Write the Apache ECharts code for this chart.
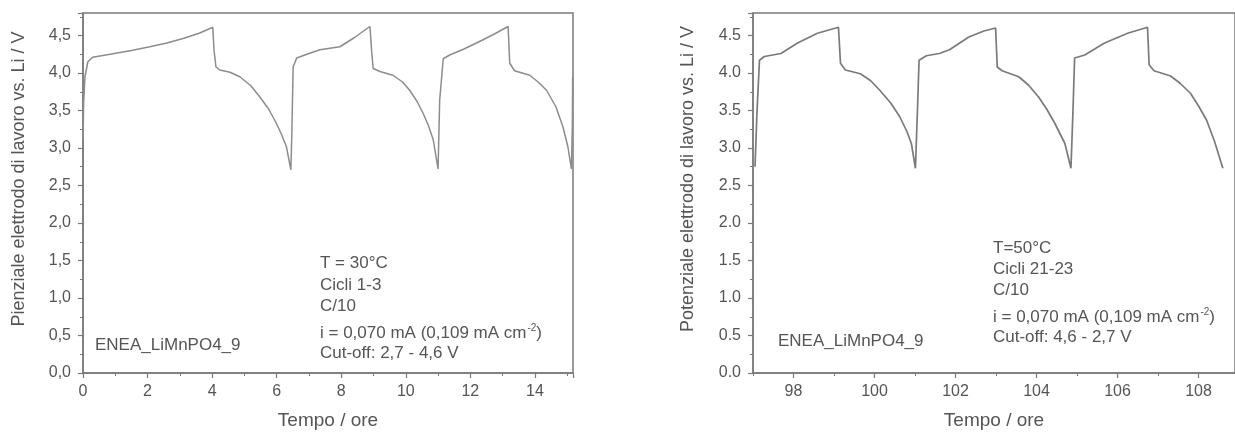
<!DOCTYPE html>
<html>
<head>
<meta charset="utf-8">
<script src="https://cdn.jsdelivr.net/npm/echarts@6/dist/echarts.min.js"></script>
<style>
  html, body { margin: 0; padding: 0; background: #fff; }
  #chart { width: 1235px; height: 436px; }
</style>
</head>
<body>
<div id="chart"></div>
<script>
// cicli 1-3, T = 30 C
const leftTime = [0.00, 0.02, 0.06, 0.15, 0.30, 0.84, 1.50, 2.07, 2.60, 3.10, 3.60, 4.02,
  4.06, 4.12, 4.24, 4.55, 4.86, 5.20, 5.48, 5.75, 5.99, 6.15, 6.30, 6.44,
  6.47, 6.51, 6.62, 7.00, 7.34, 7.96, 8.40, 8.89,
  8.94, 8.99, 9.20, 9.60, 9.90, 10.12, 10.35, 10.54, 10.70, 10.85, 11.00,
  11.05, 11.16, 11.36, 11.80, 12.19, 12.70, 13.17,
  13.22, 13.37, 13.84, 14.10, 14.36, 14.65, 14.87, 15.02, 15.13,
  15.16, 15.17]
const leftVoltage = [3.10, 3.60, 3.95, 4.15, 4.21, 4.25, 4.30, 4.35, 4.40, 4.46, 4.53, 4.61,
  4.30, 4.08, 4.04, 4.01, 3.95, 3.83, 3.68, 3.52, 3.33, 3.18, 3.02, 2.71,
  3.20, 4.08, 4.20, 4.26, 4.31, 4.35, 4.47, 4.62,
  4.30, 4.06, 4.02, 3.97, 3.88, 3.77, 3.62, 3.46, 3.30, 3.11, 2.72,
  3.64, 4.19, 4.24, 4.32, 4.40, 4.51, 4.62,
  4.13, 4.03, 3.97, 3.88, 3.77, 3.55, 3.28, 3.02, 2.72,
  3.30, 3.95]

// cicli 21-23, T = 50 C
const rightTime = [97.05, 97.10, 97.16, 97.28, 97.69, 98.10, 98.59, 99.11,
  99.16, 99.28, 99.65, 99.90, 100.13, 100.40, 100.62, 100.80, 100.91, 101.01,
  101.06, 101.10, 101.28, 101.60, 101.85, 102.33, 102.70, 102.99,
  103.03, 103.15, 103.56, 103.80, 104.05, 104.25, 104.45, 104.70, 104.85,
  104.90, 104.94, 105.19, 105.68, 106.25, 106.74,
  106.78, 106.90, 107.31, 107.55, 107.80, 108.00, 108.20, 108.40, 108.60]
const rightVoltage = [2.75, 3.50, 4.17, 4.22, 4.26, 4.40, 4.53, 4.61,
  4.13, 4.04, 3.99, 3.90, 3.77, 3.60, 3.42, 3.22, 3.06, 2.73,
  3.50, 4.17, 4.23, 4.26, 4.31, 4.48, 4.56, 4.60,
  4.08, 4.03, 3.95, 3.84, 3.68, 3.52, 3.33, 3.06, 2.73,
  3.50, 4.20, 4.24, 4.40, 4.53, 4.61,
  4.11, 4.03, 3.96, 3.86, 3.73, 3.56, 3.37, 3.08, 2.73]

const rightMajorTicks = [98, 100, 102, 104, 106, 108]
const rightMinorTicks = [97, 99, 101, 103, 105, 107]

const leftNotes = ['T = 30°C', 'Cicli 1-3', 'C/10', 'i = 0,070 mA (0,109 mA cm{sup|-2})', 'Cut-off: 2,7 - 4,6 V']
const rightNotes = ['T=50°C', 'Cicli 21-23', 'C/10', 'i = 0,070 mA (0,109 mA cm{sup|-2})', 'Cut-off: 4,6 - 2,7 V']
const sampleName = 'ENEA_LiMnPO4_9'

const FONT = "'Liberation Sans', Arial, sans-serif"
const AXIS = '#7a7a7a'
const TEXT = '#555'

const chart = echarts.init(document.getElementById('chart'))

function pairs(xs, ys) {
  return xs.map((x, i) => [x, ys[i]])
}

function yAxis(gridIndex, comma) {
  return {
    gridIndex: gridIndex,
    type: 'value',
    min: 0,
    max: 4.8,
    interval: 0.5,
    axisLine: { show: true, lineStyle: { color: AXIS, width: 1.5 } },
    axisTick: { show: true, length: 5, lineStyle: { color: AXIS, width: 1.2 } },
    minorTick: { show: true, splitNumber: 2, length: 3, lineStyle: { color: AXIS } },
    splitLine: { show: false },
    axisLabel: {
      margin: 12,
      color: TEXT,
      fontFamily: FONT,
      fontSize: 16,
      showMaxLabel: false,
      formatter: v => comma ? v.toFixed(1).replace('.', ',') : v.toFixed(1)
    }
  }
}

function noteGraphics(lines, x, ys) {
  return lines.map((t, i) => ({
    type: 'text',
    left: x,
    top: ys[i] - 10,
    style: {
      text: t,
      fill: TEXT,
      font: '17px ' + FONT,
      rich: {
        sup: { fontSize: 10, fill: TEXT, fontFamily: FONT, padding: [0, 0, 10, 1] }
      }
    }
  }))
}

function yTitle(text, x) {
  return {
    type: 'text',
    x: x,
    y: 179,
    rotation: Math.PI / 2,
    style: {
      text: text,
      fill: TEXT,
      font: '18px ' + FONT,
      align: 'center',
      verticalAlign: 'middle'
    }
  }
}

chart.setOption({
  animation: false,
  backgroundColor: '#fff',
  grid: [
    { left: 83, top: 13, right: 662, bottom: 63, show: true, borderColor: AXIS, borderWidth: 1.5 },
    { left: 753, top: 13, right: -4, bottom: 63, show: true, borderColor: AXIS, borderWidth: 1.5 }
  ],
  xAxis: [
    {
      gridIndex: 0,
      type: 'value',
      min: 0,
      max: 15.18,
      interval: 2,
      name: 'Tempo / ore',
      nameLocation: 'middle',
      nameGap: 38,
      nameTextStyle: { color: TEXT, fontFamily: FONT, fontSize: 19 },
      axisLine: { show: true, onZero: false, lineStyle: { color: AXIS, width: 1.5 } },
      axisTick: { show: true, length: 5, lineStyle: { color: AXIS, width: 1.2 } },
      minorTick: { show: true, splitNumber: 2, length: 3, lineStyle: { color: AXIS } },
      splitLine: { show: false },
      axisLabel: { margin: 11, color: TEXT, fontFamily: FONT, fontSize: 16, showMaxLabel: false }
    },
    {
      gridIndex: 1,
      type: 'value',
      position: 'bottom',
      min: 97,
      max: 108.9,
      name: 'Tempo / ore',
      nameLocation: 'middle',
      nameGap: 38,
      nameTextStyle: { color: TEXT, fontFamily: FONT, fontSize: 19 },
      axisLine: { show: true, onZero: false, lineStyle: { color: AXIS, width: 1.5 } },
      axisTick: { show: true, length: 5, customValues: rightMajorTicks, lineStyle: { color: AXIS, width: 1.2 } },
      splitLine: { show: false },
      axisLabel: { margin: 11, color: TEXT, fontFamily: FONT, fontSize: 16, customValues: rightMajorTicks }
    },
    {
      // minor ticks for the right panel
      gridIndex: 1,
      type: 'value',
      position: 'bottom',
      min: 97,
      max: 108.9,
      axisLine: { show: false },
      axisTick: { show: true, length: 3, customValues: rightMinorTicks, lineStyle: { color: AXIS } },
      axisLabel: { show: false },
      splitLine: { show: false }
    }
  ],
  yAxis: [yAxis(0, true), yAxis(1, false)],
  series: [
    {
      type: 'line',
      xAxisIndex: 0,
      yAxisIndex: 0,
      showSymbol: false,
      lineStyle: { color: '#8c8c8c', width: 1.5 },
      data: pairs(leftTime, leftVoltage)
    },
    {
      type: 'line',
      xAxisIndex: 1,
      yAxisIndex: 1,
      showSymbol: false,
      lineStyle: { color: '#7a7a7a', width: 1.7 },
      data: pairs(rightTime, rightVoltage)
    }
  ],
  graphic: [
    yTitle('Pienziale elettrodo di lavoro vs. Li / V', 19),
    yTitle('Potenziale elettrodo di lavoro vs. Li / V', 688),
    { type: 'text', left: 95, top: 337, style: { text: sampleName, fill: TEXT, font: '17px ' + FONT } },
    { type: 'text', left: 778, top: 333, style: { text: sampleName, fill: TEXT, font: '17px ' + FONT } }
  ]
    .concat(noteGraphics(leftNotes, 320, [265, 287, 308, 333, 355]))
    .concat(noteGraphics(rightNotes, 993, [250, 271, 292, 317, 339]))
})
</script>
</body>
</html>
